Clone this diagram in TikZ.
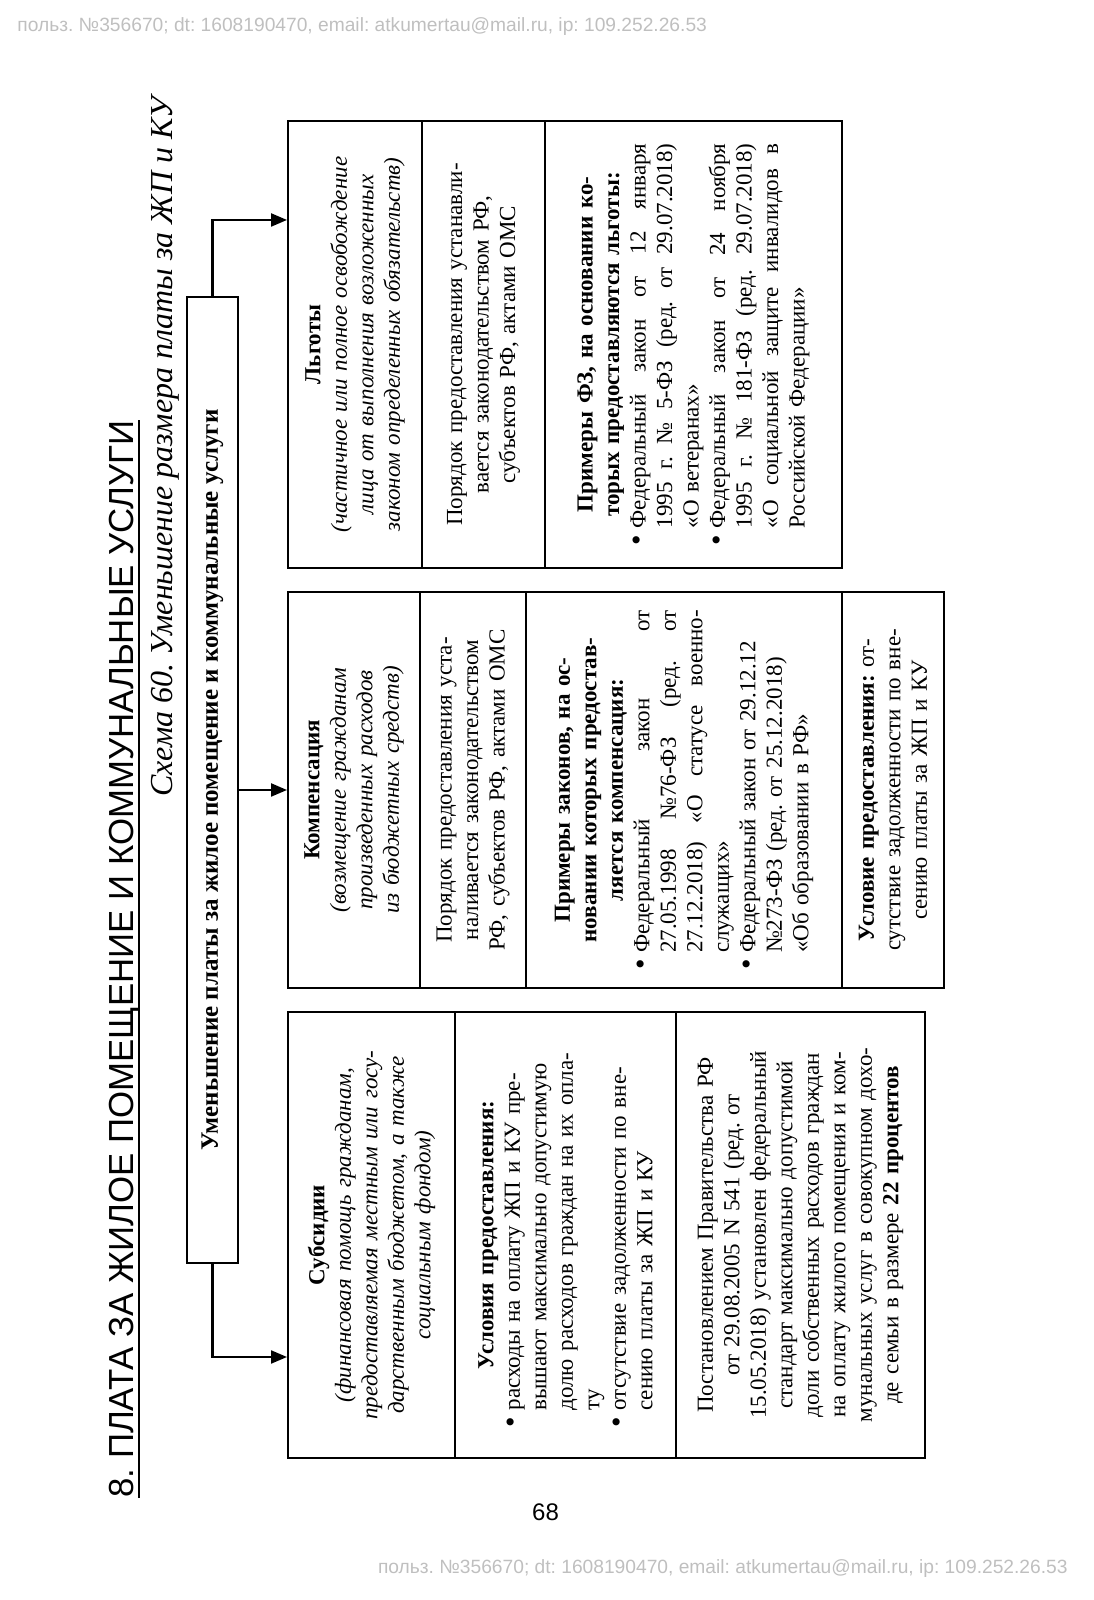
\documentclass[tikz,border=0pt]{standalone}
\usepackage{fontspec}
\setmainfont{Liberation Serif}
\newfontfamily\sansf{Liberation Sans}
\usetikzlibrary{arrows.meta}
\frenchspacing
\newlength\bi \setlength\bi{8.5pt}
\newcommand\bodyfont{\fontsize{11.5}{13.25}\selectfont}
\newcommand\wmfont{\sansf\fontsize{9.6}{11}\selectfont}
\newcommand\bigbul{\raisebox{-0.1ex}{\fontsize{15}{15}\selectfont\textbullet}}
\newcommand\lnC[1]{\hbox to\hsize{\hss#1\hss}}
\newcommand\lnB[1]{\hbox to\hsize{\spaceskip=0pt\xspaceskip=0pt \makebox[\bi][l]{\bigbul}#1}}
\newcommand\lnBL[1]{\hbox to\hsize{\makebox[\bi][l]{\bigbul}#1\hfil}}
\newcommand\lnI[1]{\hbox to\hsize{\spaceskip=0pt\xspaceskip=0pt \hskip\bi\relax#1}}
\newcommand\lnL[1]{\hbox to\hsize{\hskip\bi\relax#1\hfil}}
\begin{document}
\begin{tikzpicture}[x=0.5pt,y=0.5pt,
  cell/.style={draw, line width=1pt, rotate=90, inner sep=0pt, font=\bodyfont},
  arr/.style={line width=1.1pt, -{Triangle[length=8pt,width=6.5pt]}}]
\useasboundingbox (0,0) rectangle (1093,1600);

% watermarks and page number
\node[anchor=west, inner sep=0pt, font=\wmfont, text=black!25] (wm1) at (17,1573) {польз. №356670; dt: 1608190470, email: atkumertau@mail.ru, ip: 109.252.26.53};
\node[anchor=east, inner sep=0pt, font=\wmfont, text=black!25] (wm2) at (1068,31) {польз. №356670; dt: 1608190470, email: atkumertau@mail.ru, ip: 109.252.26.53};
\node[inner sep=0pt, font=\sansf\fontsize{12}{14}\selectfont] (pn) at (545.5,88) {68};

% title
\node[rotate=90, anchor=base west, inner sep=0pt, font=\sansf\fontsize{17.4}{20}\selectfont] (title) at (133,102) {8. ПЛАТА ЗА ЖИЛОЕ ПОМЕЩЕНИЕ И КОММУНАЛЬНЫЕ УСЛУГИ};
\draw[line width=0.9pt] ([xshift=3pt]title.base west) -- ([xshift=3pt]title.base east);
\node[rotate=90, anchor=base east, inner sep=0pt, font=\itshape\fontsize{16}{19}\selectfont] (sub) at (172,1503) {Схема 60. Уменьшение размера платы за ЖП и КУ};

% main box
\node[cell, minimum width=483pt, minimum height=25.5pt, font=\fontsize{12.5}{14}\selectfont\bfseries] (main) at (212.5,820) {Уменьшение платы за жилое помещение и коммунальные услуги};

% Субсидии
\node[cell, minimum width=223pt, minimum height=83.5pt, text width=192.5pt] (s1) at (371.5,365) {%
\lnC{\textbf{Субсидии}}
\lnC{\textit{(финансовая помощь гражданам,}}
\lnC{\textit{предоставляемая местным или госу-}}
\lnC{\textit{дарственным бюджетом, а также}}
\lnC{\textit{социальным фондом)}}};
\node[cell, minimum width=223pt, minimum height=110.5pt, text width=192.5pt] (s2) at (565.5,365) {%
\lnC{\textbf{Условия предоставления:}}
\lnBL{расходы на оплату ЖП и КУ пре-}
\lnL{вышают максимально допустимую}
\lnL{долю расходов граждан на их опла-}
\lnL{ту}
\lnBL{отсутствие задолженности по вне-}
\lnL{сению платы за ЖП и КУ}};
\node[cell, minimum width=223pt, minimum height=124.5pt, text width=192.5pt] (s3) at (800.5,365) {%
\lnC{Постановлением Правительства РФ}
\lnC{от 29.08.2005 N 541 (ред. от}
\lnC{15.05.2018) установлен федеральный}
\lnC{стандарт максимально допустимой}
\lnC{доли собственных расходов граждан}
\lnC{на оплату жилого помещения и ком-}
\lnC{мунальных услуг в совокупном дохо-}
\lnC{де семьи в размере \textbf{22 процентов}}};

% Компенсация
\node[cell, minimum width=198pt, minimum height=66pt, text width=180pt] (k1) at (354,810) {%
\lnC{\textbf{Компенсация}}
\lnC{\textit{(возмещение гражданам}}
\lnC{\textit{произведенных расходов}}
\lnC{\textit{из бюджетных средств)}}};
\node[cell, minimum width=198pt, minimum height=53pt, text width=180pt] (k2) at (473,810) {%
\lnC{Порядок предоставления уста-}
\lnC{наливается законодательством}
\lnC{РФ, субъектов РФ, актами ОМС}};
\node[cell, minimum width=198pt, minimum height=158pt, text width=180pt] (k3) at (684,810) {%
\lnC{\textbf{Примеры законов, на ос-}}
\lnC{\textbf{новании которых предостав-}}
\lnC{\textbf{ляется компенсация:}}
\lnB{Федеральный закон от}
\lnI{27.05.1998 №76-ФЗ (ред. от}
\lnI{27.12.2018) «О статусе военно-}
\lnL{служащих»}
\lnBL{Федеральный закон от 29.12.12}
\lnL{№273-ФЗ (ред. от 25.12.2018)}
\lnL{«Об образовании в РФ»}};
\node[cell, minimum width=198pt, minimum height=51pt, text width=180pt] (k4) at (893,810) {%
\lnC{\textbf{Условие предоставления:} от-}
\lnC{сутствие задолженности по вне-}
\lnC{сению платы за ЖП и КУ}};

% Льготы
\node[cell, minimum width=223.5pt, minimum height=67pt, text width=201pt] (l1) at (355,1255.5) {%
\lnC{\textbf{Льготы}}
\lnC{\textit{(частичное или полное освобождение}}
\lnC{\textit{лица от выполнения возложенных}}
\lnC{\textit{законом определенных обязательств)}}};
\node[cell, minimum width=223.5pt, minimum height=61.5pt, text width=201pt] (l2) at (483.5,1255.5) {%
\lnC{Порядок предоставления устанавли-}
\lnC{вается законодательством РФ,}
\lnC{субъектов РФ, актами ОМС}};
\node[cell, minimum width=223.5pt, minimum height=148.5pt, text width=201pt] (l3) at (693.5,1255.5) {%
\lnC{\textbf{Примеры ФЗ, на основании ко-}}
\lnC{\textbf{торых предоставляются льготы:}}
\lnB{Федеральный закон от 12 января}
\lnI{1995 г. № 5-ФЗ (ред. от 29.07.2018)}
\lnL{«О ветеранах»}
\lnB{Федеральный закон от 24 ноября}
\lnI{1995 г. № 181-ФЗ (ред. 29.07.2018)}
\lnI{«О социальной защите инвалидов в}
\lnL{Российской Федерации»}};

% connectors
\coordinate (jL) at (0,1380);
\coordinate (jS) at (0,243);
\draw[arr] (main.east) |- (l1.north |- jL);
\draw[arr] (main.west) |- (s1.north |- jS);
\draw[arr] (main.south |- k1.north) -- (k1.north);
\end{tikzpicture}
\end{document}
